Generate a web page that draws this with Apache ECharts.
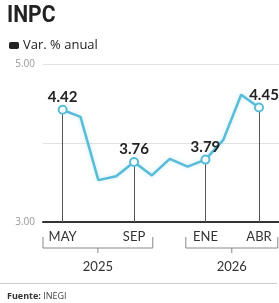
<!DOCTYPE html>
<html>
<head>
<meta charset="utf-8">
<script src="https://cdn.jsdelivr.net/npm/echarts@6/dist/echarts.min.js"></script>
<style>
  html, body { margin: 0; padding: 0; background: #fff; }
  #chart { width: 279px; height: 303px; }
</style>
</head>
<body>
<div id="chart"></div>
<script>
// datos del INPC, variacion % anual
var months = ['MAY', 'JUN', 'JUL', 'AGO', 'SEP', 'OCT', 'NOV', 'DIC', 'ENE', 'FEB', 'MAR', 'ABR'];
var values = [4.42, 4.33, 3.53, 3.58, 3.76, 3.59, 3.80, 3.70, 3.79, 4.04, 4.61, 4.45];
var marked = [0, 4, 8, 11];          // puntos con etiqueta y linea vertical
var yTicks = [3, 5];
var years = ['2025', '2026'];
var yearFrom = [0, 8];               // primer mes de cada año (indice)
var yearTo = [4, 11];                // ultimo mes etiquetado de cada año

var blue = '#58bcd8';
var dark = '#222';

var chart = echarts.init(document.getElementById('chart'));

var lineData = values.map(function (v, i) {
    var isMarked = marked.indexOf(i) >= 0;
    return {
        value: [i, v],
        symbol: isMarked ? 'circle' : 'none',
        label: {
            show: isMarked,
            offset: i === values.length - 1 ? [5, 0] : [0, 0]
        }
    };
});

var dropLines = marked.map(function (i) {
    return [{ coord: [i, values[i]] }, { coord: [i, yTicks[0]] }];
});

var option = {
    animation: false,
    legend: {
        left: 4,
        top: 34,
        itemWidth: 10,
        itemHeight: 7,
        itemGap: 4,
        icon: 'roundRect',
        itemStyle: { color: dark, borderColor: dark, borderWidth: 0 },
        textStyle: { fontFamily: 'Open Sans', fontSize: 13, color: dark, padding: [0, 0, 0, -1] },
        data: ['Var. % anual']
    },
    grid: { left: 43, right: 0, top: 64, bottom: 81 },
    xAxis: {
        type: 'value',
        min: -1.1,
        max: 12.12,
        splitLine: { show: false },
        axisTick: { show: false },
        axisLine: { show: true, lineStyle: { color: '#333', width: 2 } },
        axisLabel: {
            customValues: marked,
            margin: 8,
            fontFamily: 'Lato',
            fontSize: 13,
            color: '#333',
            formatter: function (v) { return months[Math.round(v)]; }
        }
    },
    yAxis: {
        type: 'value',
        min: 3,
        max: 5,
        interval: 1,
        axisLine: { show: false },
        axisTick: { show: false },
        splitLine: { lineStyle: { color: '#e2e2e2', width: 1 } },
        axisLabel: {
            margin: 8,
            fontFamily: 'Open Sans',
            fontSize: 10,
            color: '#999',
            formatter: function (v) { return yTicks.indexOf(v) >= 0 ? v.toFixed(2) : ''; }
        }
    },
    series: [{
        name: 'Var. % anual',
        type: 'line',
        data: lineData,
        symbolSize: 8,
        itemStyle: { color: '#fff', borderColor: blue, borderWidth: 2 },
        lineStyle: { color: blue, width: 2.5, shadowColor: 'rgba(88,188,216,0.35)', shadowBlur: 4 },
        label: {
            position: 'top',
            distance: 0,
            lineHeight: 15,
            fontFamily: 'Lato',
            fontWeight: 'bold',
            fontSize: 15,
            color: dark,
            formatter: function (p) { return p.value[1].toFixed(2); }
        },
        z: 3,
        markLine: {
            silent: true,
            symbol: ['none', 'none'],
            label: { show: false },
            lineStyle: { color: '#555', width: 1, type: 'solid' },
            data: dropLines,
            z: 1
        }
    }]
};
chart.setOption(option);

// titulo, llaves de los años y pie
function drawExtras() {
    var y0 = chart.convertToPixel({ gridIndex: 0 }, [0, yTicks[0]])[1];
    var els = [];
    // titulo un poco condensado
    els.push({
        type: 'text',
        x: 7,
        y: 16,
        scaleX: 0.88,
        style: { text: 'INPC', verticalAlign: 'middle', fontFamily: 'Roboto', fontWeight: 'bold', fontSize: 24, fill: dark }
    });
    for (var k = 0; k < years.length; k++) {
        var x1 = chart.convertToPixel({ gridIndex: 0 }, [yearFrom[k] - 1.1, yTicks[0]])[0];
        var x2 = chart.convertToPixel({ gridIndex: 0 }, [yearTo[k] + 1.05, yTicks[0]])[0];
        var xm = (x1 + x2) / 2;
        els.push({
            type: 'polyline',
            shape: { points: [[x1, y0 + 15], [x1, y0 + 26], [x2, y0 + 26], [x2, y0 + 15]] },
            style: { stroke: '#888', lineWidth: 1, fill: null }
        });
        els.push({
            type: 'line',
            shape: { x1: xm, y1: y0 + 26, x2: xm, y2: y0 + 31 },
            style: { stroke: '#888', lineWidth: 1 }
        });
        els.push({
            type: 'text',
            x: xm,
            y: y0 + 45,
            style: { text: years[k], align: 'center', verticalAlign: 'middle', fontFamily: 'Lato', fontSize: 13, fill: '#333' }
        });
    }
    // pie con la fuente
    els.push({
        type: 'line',
        shape: { x1: 0, y1: 283.5, x2: 277, y2: 283.5 },
        style: { stroke: '#ccc', lineWidth: 1 }
    });
    els.push({
        type: 'text',
        x: 7,
        y: 296,
        style: {
            text: '{b|Fuente:} INEGI',
            verticalAlign: 'middle',
            fontFamily: 'Open Sans',
            fontSize: 9,
            fill: '#444',
            rich: { b: { fontFamily: 'Open Sans', fontWeight: 'bold', fontSize: 9, fill: '#333' } }
        }
    });
    chart.setOption({ graphic: els });
}
drawExtras();
</script>
</body>
</html>
